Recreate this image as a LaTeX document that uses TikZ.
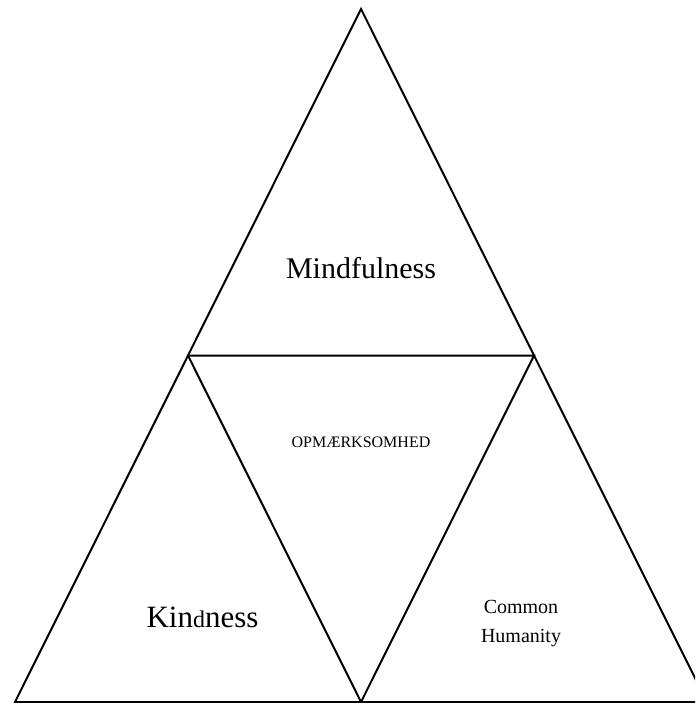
\documentclass[tikz,border=0pt]{standalone}
\usepackage{fontspec}
\setmainfont{Liberation Serif}
\begin{document}
\begin{tikzpicture}[x=1pt,y=-1pt,
  edge/.style={line width=2pt,line join=miter},
  lbl/.style={inner sep=0pt,anchor=base}]
\useasboundingbox (0,0) rectangle (695,703);
\clip (0,0) rectangle (695,703);
\fill[white] (0,0) rectangle (695,703);
\coordinate (A) at (361,9);
\coordinate (L) at (15,702);
\coordinate (R) at (707,702);
\coordinate (ML) at (188,355.5);
\coordinate (MR) at (534,355.5);
\coordinate (MB) at (361,702);
\draw[edge] (A) -- (L) -- (R) -- cycle;
\draw[edge] (ML) -- (MR) -- (MB) -- cycle;
\node[lbl] (mind) at (361,278) {\fontsize{30}{36}\selectfont Mindfulness};
\node[lbl] (opm) at (361,447) {\fontsize{16}{19}\selectfont OPMÆRKSOMHED};
\node[lbl] (kind) at (202.5,627) {\fontsize{31}{37}\selectfont Kin{\fontsize{24}{29}\selectfont d}ness};
\node[lbl] (common) at (521,613) {\fontsize{20}{24}\selectfont Common};
\node[lbl] (human) at (521,642) {\fontsize{20}{24}\selectfont Humanity};
\end{tikzpicture}
\end{document}
